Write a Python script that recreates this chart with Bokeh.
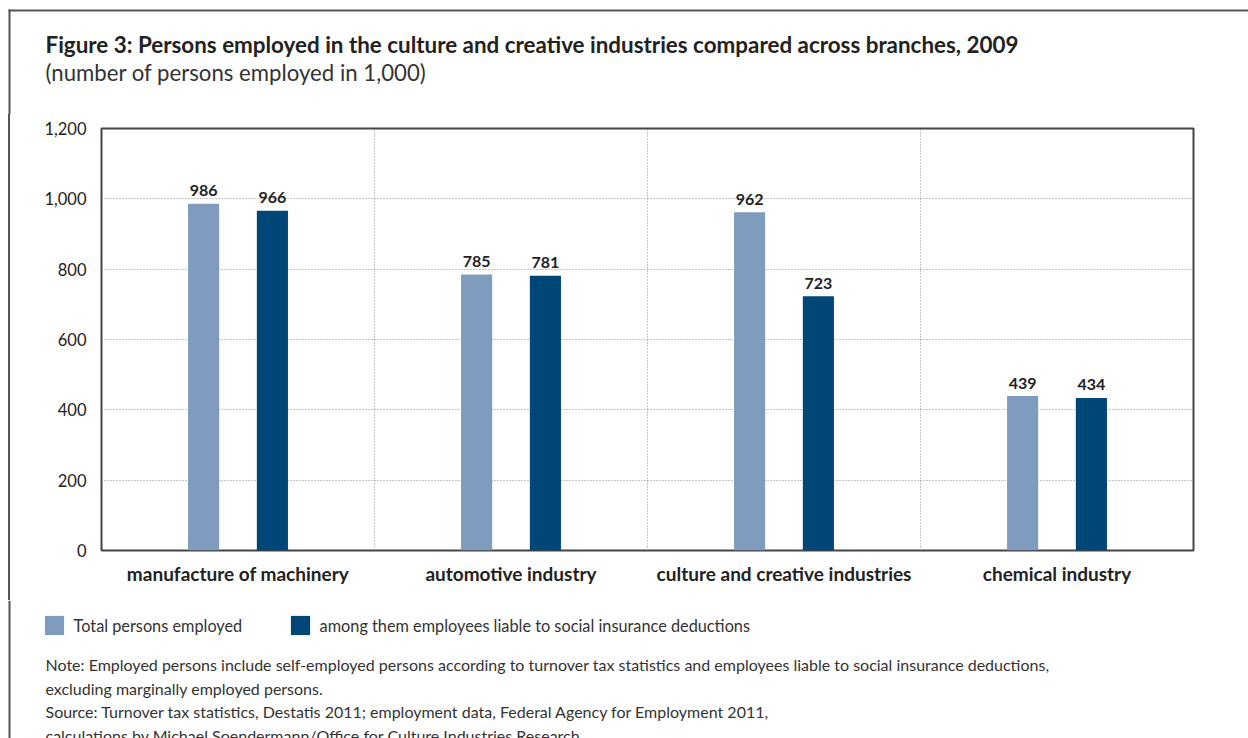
from bokeh.plotting import figure
from bokeh.layouts import column, row
from bokeh.models import (ColumnDataSource, Range1d, FixedTicker, NumeralTickFormatter,
                          Legend, LegendItem, Div)
from bokeh.transform import dodge
from bokeh.core.properties import value
from bokeh.embed import file_html
from bokeh.resources import INLINE

# ---- data ----
categories = ["manufacture of machinery", "automotive industry",
              "culture and creative industries", "chemical industry"]
total_employed = [986, 785, 962, 439]
insured_employees = [966, 781, 723, 434]
series_names = ["Total persons employed",
                "among them employees liable to social insurance deductions"]
y_ticks = [0, 200, 400, 600, 800, 1000, 1200]

title = "Figure 3: Persons employed in the culture and creative industries compared across branches, 2009"
subtitle = "(number of persons employed in 1,000)"
notes = [
    "Note: Employed persons include self-employed persons according to turnover tax statistics and employees liable to social insurance deductions,",
    "excluding marginally employed persons.",
    "Source: Turnover tax statistics, Destatis 2011; employment data, Federal Agency for Employment 2011,",
    "calculations by Michael Soendermann/Office for Culture Industries Research.",
]

LIGHT = "#7f9cbf"
DARK = "#004677"
FONT = "Lato"
TXT = "#222222"
BORDER = "#555555"

W = 1248
H_HEAD, H_CHART, H_FOOT = 114, 486, 138
STRIP = 10


def blank(width, height):
    f = figure(width=width, height=height, output_backend="svg", toolbar_location=None,
               x_range=Range1d(0, width), y_range=Range1d(height, 0), min_border=0,
               x_axis_type=None, y_axis_type=None)
    f.outline_line_color = None
    f.grid.visible = False
    return f


# ---- header ----
head = blank(W, H_HEAD)
head.line(x=[8, W], y=[10, 10], line_color=BORDER, line_width=2)
head.line(x=[9, 9], y=[9, H_HEAD], line_color=BORDER, line_width=2)
head.text(x=[45], y=[43.5], text=[title], text_font=value(FONT), text_font_style="bold",
          text_font_size="22.4px", text_color=TXT, text_baseline="alphabetic")
head.text(x=[45], y=[72], text=[subtitle], text_font=value(FONT),
          text_font_size="22.2px", text_color="#333333", text_baseline="alphabetic")

# ---- left border strip (plain box) ----
strip = Div(text="", width=STRIP, height=H_CHART, margin=(0, 0, 0, 0),
            styles={"background": "linear-gradient(to right, #ffffff 8px, %s 8px)" % BORDER,
                    "padding": "0px"})

# ---- chart ----
xc = [i + 0.5 for i in range(len(categories))]
src = ColumnDataSource(dict(
    x=xc, total=total_employed, insured=insured_employees,
    total_lbl=[str(v) for v in total_employed],
    insured_lbl=[str(v) for v in insured_employees],
))

p = figure(width=W - STRIP, height=H_CHART, output_backend="svg", toolbar_location=None,
           x_range=Range1d(0, len(categories)), y_range=Range1d(0, 1200),
           min_border_left=91, min_border_right=55, min_border_top=14,
           min_border_bottom=50)

BW = 0.114
OFF = 0.126
p.vbar(x=dodge("x", -OFF, range=p.x_range), top="total", width=BW, source=src,
       fill_color=LIGHT, line_color=None)
p.vbar(x=dodge("x", OFF, range=p.x_range), top="insured", width=BW, source=src,
       fill_color=DARK, line_color=None)

for col, lbl, off in (("total", "total_lbl", -OFF), ("insured", "insured_lbl", OFF)):
    p.text(x=dodge("x", off, range=p.x_range), y=col, text=lbl, source=src,
           text_font=value(FONT), text_font_style="bold", text_font_size="16px",
           text_align="center", text_baseline="alphabetic", y_offset=-13, text_color=TXT)

p.xaxis.ticker = FixedTicker(ticks=xc)
p.xaxis.major_label_overrides = {x: c for x, c in zip(xc, categories)}
p.xaxis.major_label_text_font = FONT
p.xaxis.major_label_text_font_style = "bold"
p.xaxis.major_label_text_font_size = "19px"
p.xaxis.major_label_text_color = TXT
p.xaxis.major_label_standoff = 11
p.yaxis.ticker = FixedTicker(ticks=y_ticks)
p.yaxis.formatter = NumeralTickFormatter(format="0,0")
p.yaxis.major_label_text_font = FONT
p.yaxis.major_label_text_font_size = "16.5px"
p.yaxis.major_label_text_color = TXT
p.yaxis.major_label_standoff = 15
for ax in (p.xaxis, p.yaxis):
    ax.axis_line_color = None
    ax.major_tick_line_color = None
    ax.minor_tick_line_color = None
    ax.major_tick_out = 0
    ax.major_tick_in = 0

p.ygrid.ticker = FixedTicker(ticks=y_ticks[1:-1])
p.ygrid.grid_line_color = "#8a8a8a"
p.ygrid.grid_line_dash = "1 2"
p.xgrid.ticker = FixedTicker(ticks=[1, 2, 3])
p.xgrid.grid_line_color = "#8a8a8a"
p.xgrid.grid_line_dash = "1 2"

p.outline_line_color = "#444444"
p.outline_line_width = 2

# ---- footer: legend + notes ----
foot = blank(W, H_FOOT)
foot.line(x=[9, 9], y=[0, H_FOOT], line_color=BORDER, line_width=2)
nan = float("nan")
lr1 = foot.vbar(x=[nan], top=[nan], width=1, fill_color=LIGHT, line_color=None)
lr2 = foot.vbar(x=[nan], top=[nan], width=1, fill_color=DARK, line_color=None)
for rend, name, lx in ((lr1, series_names[0], 41.6), (lr2, series_names[1], 287.6)):
    lg = Legend(items=[LegendItem(label=name, renderers=[rend], index=0)],
                location=(lx, H_FOOT - 37), orientation="horizontal",
                glyph_width=24, glyph_height=24, label_height=24, label_standoff=8,
                padding=0, margin=0, border_line_color=None,
                background_fill_alpha=0, label_text_font=FONT,
                label_text_font_size="16.3px", label_text_color="#333333")
    foot.add_layout(lg)

foot.text(x=[45] * len(notes), y=[64, 87.5, 111, 135], text=notes, text_font=value(FONT),
          text_font_size="16px", text_color="#333333", text_baseline="alphabetic")

layout = column(head, row(strip, p), foot)
open("out.html", "w").write(file_html(layout, INLINE))
